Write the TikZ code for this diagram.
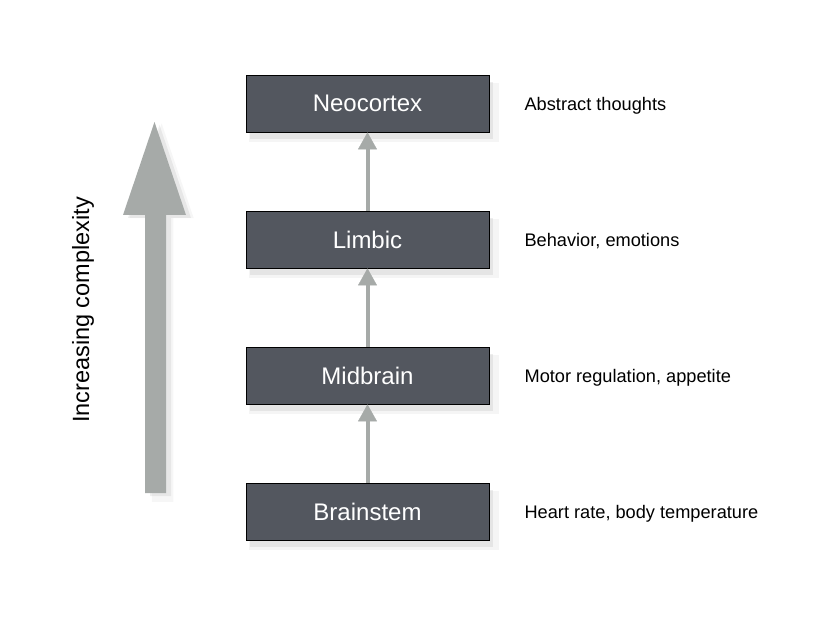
\documentclass[tikz,border=0pt]{standalone}
\usepackage{fontspec}
\setmainfont{Liberation Sans}
\usetikzlibrary{arrows.meta,positioning,shadows}
\definecolor{boxgray}{RGB}{83,87,95}
\definecolor{arrowgray}{RGB}{166,170,168}

\begin{document}
\begin{tikzpicture}[x=1pt, y=1pt, node distance=136pt,
  level/.style={draw=black, line width=0.8pt, fill=boxgray, text=white,
    minimum width=243pt, minimum height=57pt, font=\fontsize{24}{28}\selectfont,
    drop shadow={shadow xshift=6pt, shadow yshift=-9pt, shadow scale=1.03, opacity=0.08},
    drop shadow={shadow xshift=4pt, shadow yshift=-7pt, opacity=0.14}},
  role/.style={inner sep=0pt, yshift=-2pt, font=\fontsize{18.2}{21}\selectfont},
  riser/.style={arrowgray, line width=4pt,
    -{Triangle[width=19pt 0, length=17pt 0, line width=0.4pt, fill=arrowgray]}}]
\useasboundingbox (0,0) rectangle (840,-636);
\node[level] (brain) at (367.5,-511.5) {Brainstem};
\node[level] (mid)    [above of=brain]  {Midbrain};
\node[level] (limbic) [above of=mid]    {Limbic};
\node[level] (neo)    [above of=limbic] {Neocortex};
\node[role] (heart)    [right=35pt of brain]  {Heart rate, body temperature};
\node[role] (motor)    [right=35pt of mid]    {Motor regulation, appetite};
\node[role] (behavior) [right=35pt of limbic] {Behavior, emotions};
\node[role] (abstract) [right=35pt of neo]    {Abstract thoughts};
\draw[riser] (brain) -- (mid);
\draw[riser] (mid) -- (limbic);
\draw[riser] (limbic) -- (neo);
% big arrow on the left
\fill[arrowgray,
  drop shadow={shadow xshift=7pt, shadow yshift=-5pt, shadow scale=1.02, opacity=0.07},
  drop shadow={shadow xshift=5pt, shadow yshift=-3pt, opacity=0.13}]
  (145,-493) -- (145,-215) -- (123,-215) -- (154.5,-122) -- (186,-215)
  -- (166,-215) -- (166,-493) -- cycle;
\node[rotate=90, font=\fontsize{23.5}{27}\selectfont] (axis) at (83,-310) {Increasing complexity};
\end{tikzpicture}
\end{document}
